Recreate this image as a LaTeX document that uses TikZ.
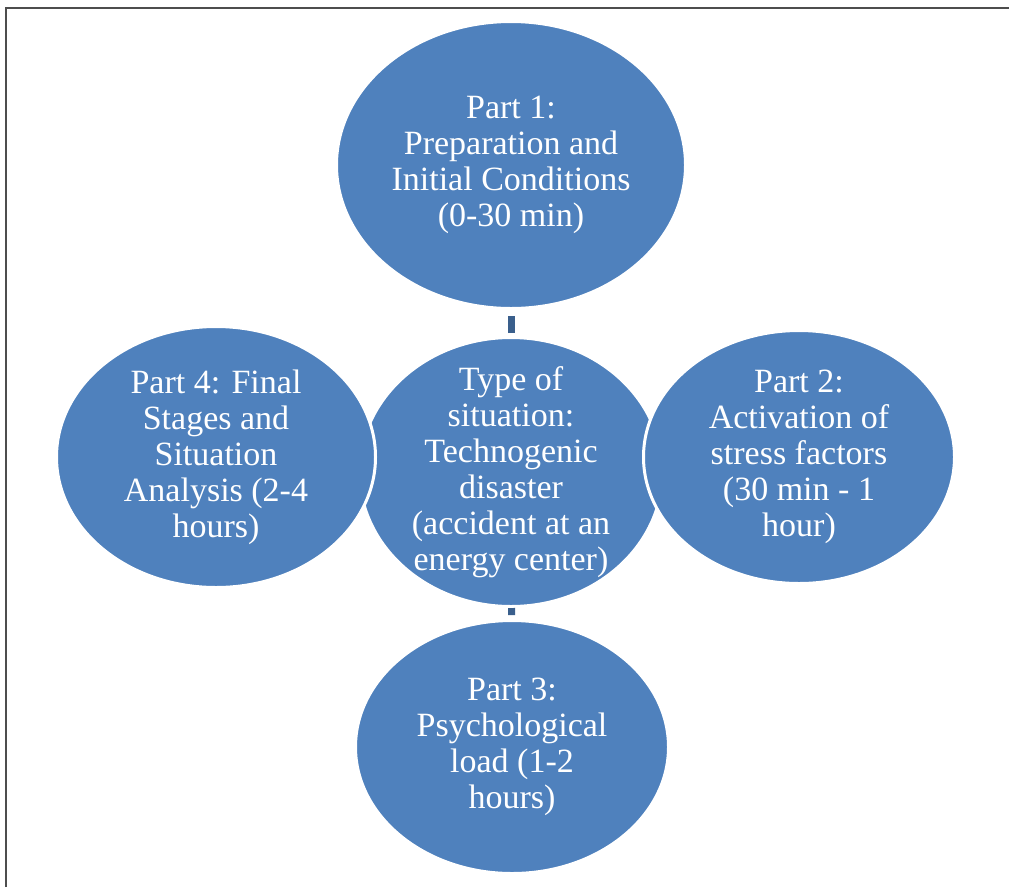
\documentclass[tikz,border=0pt]{standalone}
\usepackage{fontspec}
\setmainfont{Liberation Serif}
\usetikzlibrary{shapes}
\definecolor{ColorA}{HTML}{4F81BD}
\definecolor{ColorB}{HTML}{3A5F8C}
\definecolor{ColorF}{HTML}{4D4D4D}

\begin{document}
\begin{tikzpicture}[x=1pt, y=1pt,
part/.style={
	ellipse,
	fill=ColorA,
	draw=white,
	line width=3pt,
	inner sep=-40pt,
	align=center,
	font=\fontsize{34}{36}\selectfont,
	text=white},
link/.style={
	draw,
	line width=7pt,
	color=ColorB},
frame/.style={
	draw,
	line width=2.5pt,
	color=ColorF}]

\useasboundingbox (0,0) rectangle (1009,-887);

%Frame
\coordinate (fbl) at (6,-887);
\coordinate (ftl) at (6,-8);
\coordinate (ftr) at (1009,-8);
\path[frame] (fbl) -- (ftl) -- (ftr);

%Parts
\node[part, minimum width=303pt, minimum height=269pt] (hub) at (511,-472) {Type of\\ situation:\\ Technogenic\\ disaster\\ (accident at an\\ energy center)};
\node[part, minimum width=349pt, minimum height=287pt] (p1) at (511,-165) {Part 1:\\ Preparation and\\ Initial Conditions\\ (0-30 min)};
\node[part, minimum width=311pt, minimum height=253pt] (p2) at (799,-457) {Part 2:\\ Activation of\\ stress factors\\ (30 min - 1\\ hour)};
\node[part, minimum width=313pt, minimum height=253pt] (p3) at (512,-747) {Part 3:\\ Psychological\\ load (1-2\\ hours)};
\node[part, minimum width=319pt, minimum height=261pt] (p4) at (216,-457) {Part 4: Final\\ Stages and\\ Situation\\ Analysis (2-4\\ hours)};

\path[link, shorten <=3pt, shorten >=6pt] (hub) -- (p1);
\path[link, shorten <=0pt, shorten >=4pt] (hub) -- (p3);
\end{tikzpicture}
\end{document}
